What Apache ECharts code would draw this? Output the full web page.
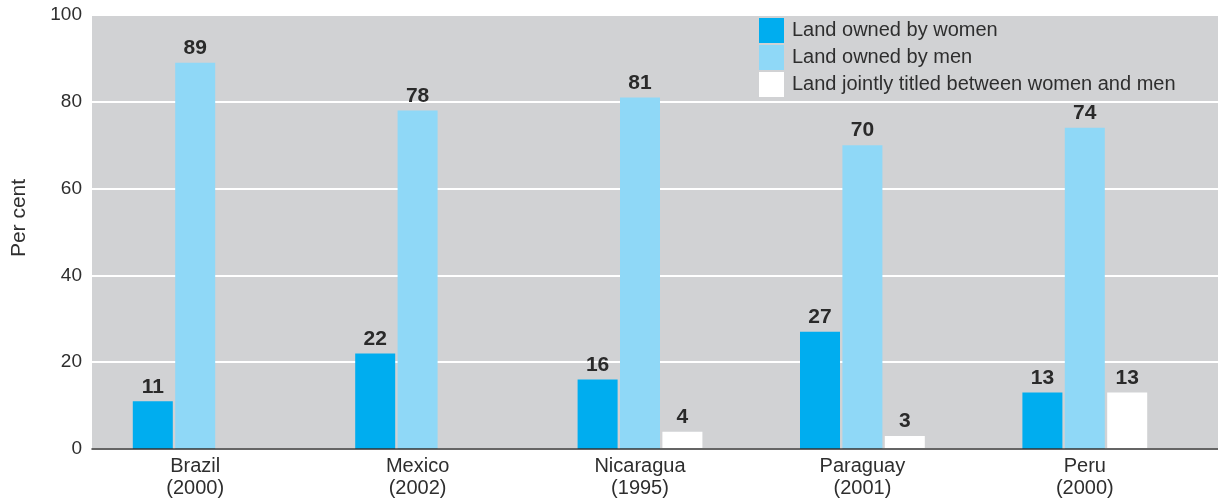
<!DOCTYPE html>
<html>
<head>
<meta charset="utf-8">
<script src="https://cdn.jsdelivr.net/npm/echarts@6/dist/echarts.min.js"></script>
<style>
html,body{margin:0;padding:0;background:#fff;}
#chart{width:1218px;height:499px;}
</style>
</head>
<body>
<div id="chart"></div>
<script>
var categories = ['Brazil\n(2000)', 'Mexico\n(2002)', 'Nicaragua\n(1995)', 'Paraguay\n(2001)', 'Peru\n(2000)'];
var seriesNames = ['Land owned by women', 'Land owned by men', 'Land jointly titled between women and men'];
var women = [11, 22, 16, 27, 13];
var men = [89, 78, 81, 70, 74];
var joint = [null, null, 4, 3, 13];
var yTicks = [0, 20, 40, 60, 80, 100];

var FONT = '"Liberation Sans", Arial, Helvetica, sans-serif';
var TXT = '#2e2e2e';
var colors = ['#00adef', '#8fd8f7', '#ffffff'];

var chart = echarts.init(document.getElementById('chart'), null, {renderer: 'canvas'});

var labelCfg = {
  show: true, position: 'top', distance: 4,
  fontFamily: FONT, fontSize: 21, fontWeight: 'bold', color: '#2a2a2a'
};

function mkSeries(i, data) {
  return {
    name: seriesNames[i], type: 'bar', data: data,
    xAxisIndex: 1, yAxisIndex: 1,
    barWidth: 40, barGap: '6%',
    itemStyle: {color: colors[i]},
    label: labelCfg,
    z: 2
  };
}

chart.setOption({
  animation: false,
  textStyle: {fontFamily: FONT},
  grid: [
    {left: 92, right: 0, top: 15, bottom: 50, show: true, backgroundColor: '#d1d2d4', borderWidth: 0},
    {left: 84, right: 22, top: 15, bottom: 50, show: false}
  ],
  legend: {
    orient: 'vertical', left: 759, top: 18, padding: 0,
    itemWidth: 25, itemHeight: 25, itemGap: 2,
    icon: 'rect',
    textStyle: {fontFamily: FONT, fontSize: 20, color: TXT, padding: [0, 0, 0, 3]},
    data: seriesNames
  },
  xAxis: [
    {
      type: 'category', gridIndex: 0, data: categories,
      axisLine: {show: true, lineStyle: {color: '#333333', width: 1.5}},
      axisTick: {show: false}, axisLabel: {show: false}, splitLine: {show: false},
      z: 5
    },
    {
      type: 'category', gridIndex: 1, data: categories,
      axisLine: {show: false}, axisTick: {show: false},
      axisLabel: {fontFamily: FONT, fontSize: 20, color: TXT, lineHeight: 22, margin: 6}
    }
  ],
  yAxis: [
    {
      type: 'value', gridIndex: 0, min: yTicks[0], max: yTicks[yTicks.length - 1], interval: 20,
      name: 'Per cent', nameLocation: 'middle', nameGap: 62,
      nameTextStyle: {fontFamily: FONT, fontSize: 21, color: TXT, padding: [0, 0, 0, 28]},
      axisLine: {show: false}, axisTick: {show: false},
      axisLabel: {fontFamily: FONT, fontSize: 19, color: TXT, margin: 10},
      splitLine: {show: true, lineStyle: {color: '#ffffff', width: 2}}
    },
    {
      type: 'value', gridIndex: 1, min: yTicks[0], max: yTicks[yTicks.length - 1], interval: 20,
      show: false, splitLine: {show: false}
    }
  ],
  series: [mkSeries(0, women), mkSeries(1, men), mkSeries(2, joint)]
});
</script>
</body>
</html>
